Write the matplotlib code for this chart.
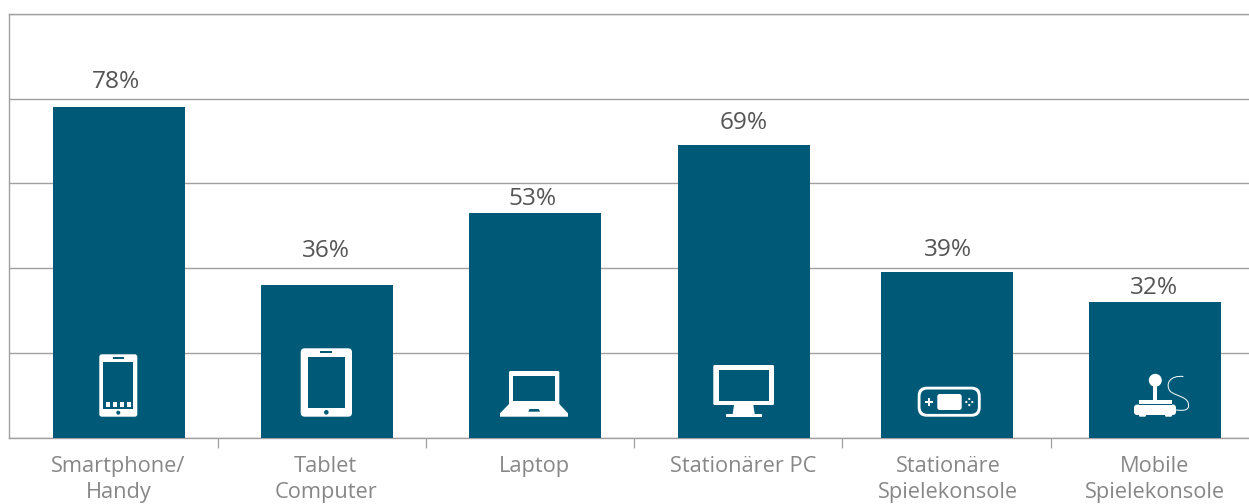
import matplotlib
matplotlib.use("Agg")
import matplotlib.pyplot as plt
from matplotlib.patches import Rectangle, FancyBboxPatch, Polygon, Circle, PathPatch
from matplotlib.path import Path

plt.rcParams['font.family'] = ['Open Sans', 'DejaVu Sans']

categories = ["Smartphone/\nHandy", "Tablet\nComputer", "Laptop", "Stationärer PC",
              "Stationäre\nSpielekonsole", "Mobile\nSpielekonsole"]
values = [78, 36, 53, 69, 39, 32]
value_labels = ["78%", "36%", "53%", "69%", "39%", "32%"]
y_grid = [0, 20, 40, 60, 80, 100]

# layout in pixels of the original picture
W, H = 1249, 504
LEFT, BASE, TOP = 9.0, 437.5, 14.0
bar_centres = [119, 327, 535, 744, 947, 1155]
label_centres = [118.5, 325.5, 534, 743.5, 948, 1154.5]
tick_pos = [218, 426, 634, 842, 1051]
value_dx = [-3, -1, -2, 0, 1, -1]
value_gap = [19, 28, 8, 16, 16, 8]

TEAL = "#005a77"
GRID = "#a0a0a0"
LABEL = "#878787"
VALUE = "#555555"

fig = plt.figure(figsize=(W / 100, H / 100), dpi=100)
ax = fig.add_axes([LEFT / W, 1 - BASE / H, (W - LEFT) / W, (BASE - TOP) / H])
ax.set_xlim(LEFT, W)
ax.set_ylim(0, 100)
ax.set_axisbelow(True)
ax.yaxis.grid(True, color=GRID, lw=1.0)
ax.set_yticks(y_grid)
ax.tick_params(axis='y', length=0, labelleft=False)
ax.spines['right'].set_visible(False)
for s in ['left', 'bottom', 'top']:
    ax.spines[s].set_color(GRID)
    ax.spines[s].set_linewidth(1.0)

ax.bar(bar_centres, values, width=132, color=TEAL, zorder=3)

ax.set_xticks(tick_pos)
ax.tick_params(axis='x', which='major', length=7.2, width=0.9, color=GRID, labelbottom=False)
ax.set_xticks(label_centres, minor=True)
ax.set_xticklabels(categories, minor=True, fontsize=15.7, color=LABEL, linespacing=1.3)
ax.tick_params(axis='x', which='minor', length=0, pad=13.5)

for x, v, t, dx, gap in zip(bar_centres, values, value_labels, value_dx, value_gap):
    ax.annotate(t, xy=(x, v), xytext=(dx, gap), textcoords='offset pixels',
                ha='center', va='baseline', fontsize=17.6, color=VALUE, zorder=4)

# overlay for the white device icons, y runs downwards
ov = fig.add_axes([0, 0, 1, 1], facecolor='none')
ov.set_xlim(0, W)
ov.set_ylim(H, 0)
ov.axis('off')


def box(x0, y0, x1, y1, c='white', r=0.0):
    if r:
        p = FancyBboxPatch((x0 + r, y0 + r), x1 - x0 - 2 * r, y1 - y0 - 2 * r,
                           boxstyle=f"round,pad={r},rounding_size={r}", fc=c, ec='none')
    else:
        p = Rectangle((x0, y0), x1 - x0, y1 - y0, fc=c, ec='none')
    ov.add_patch(p)


def dot(x, y, r, c=TEAL):
    ov.add_patch(Circle((x, y), r, fc=c, ec='none'))


# phone
box(99.3, 354.3, 137.3, 416.7, r=2.5)
box(103.3, 362, 133.3, 408.7, TEAL)
box(112.7, 357, 124, 358.6, TEAL)
dot(118.3, 412.7, 2)
for x0 in [105.7, 112.7, 119.7, 126.7]:
    box(x0, 402, x0 + 4.6, 407)

# tablet
box(300.7, 348.3, 352, 416.7, r=4)
box(307.7, 356.7, 345, 408, TEAL)
box(320.3, 351.2, 332.3, 352.9, TEAL)
dot(326.3, 412.3, 2.3)

# laptop
box(509, 371, 559.3, 405, r=1.5)
box(513.3, 375.7, 555, 401, TEAL)
ov.add_patch(Polygon([(509, 404), (500, 413.3), (500, 416.7), (568, 416.7), (568, 413.3), (559.3, 404)],
                     fc='white', ec='none'))
ov.add_patch(Polygon([(529.5, 409), (538.8, 409), (540, 411.7), (528.3, 411.7)], fc=TEAL, ec='none'))

# monitor
box(713.3, 365, 774, 405, r=1.5)
box(718.7, 370, 769, 400.7, TEAL)
ov.add_patch(Polygon([(734, 405), (732.7, 414), (754.7, 414), (753.3, 405)], fc='white', ec='none'))
box(726, 414, 761.7, 416.7)

# game console
box(917.7, 386.7, 980.7, 416.7, r=9)
box(920.5, 389.5, 977.9, 413.9, TEAL, r=7)
box(937.3, 394, 961.7, 410, r=2.5)
box(925.4, 401, 933.2, 403)
box(928.3, 398.1, 930.3, 405.9)
for dx, dy in [(-3, 0), (3, 0), (0, -3), (0, 3)]:
    dot(969.3 + dx, 402 + dy, 1.1, 'white')

# joystick
dot(1155.3, 380.3, 6.5, 'white')
box(1153.3, 385, 1157.3, 401)
box(1139, 400, 1171.7, 405)
box(1134, 404.6, 1176, 415, r=3)
box(1139, 404.2, 1171.7, 405.2, TEAL)
box(1139, 414, 1146, 416.7, r=1.2)
box(1165, 414, 1172, 416.7, r=1.2)
cable = Path([(1183.3, 376.5), (1170, 375), (1165, 384), (1170, 391),
              (1176, 397), (1190, 396), (1188.5, 407), (1187, 411), (1182, 410.5), (1176, 410)],
             [Path.MOVETO] + [Path.CURVE4] * 9)
ov.add_patch(PathPatch(cable, fc='none', ec='white', lw=0.7))

fig.savefig("out.png", dpi=100)
